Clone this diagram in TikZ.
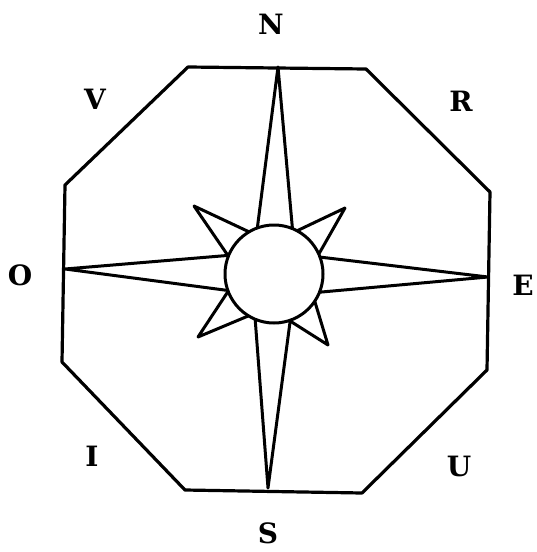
\documentclass[tikz,border=0pt]{standalone}
\usepackage{fontspec}
\setmainfont{DejaVu Serif}
\usetikzlibrary{calc}
\tikzset{
  lbl/.style={font=\fontsize{28}{28}\selectfont\bfseries, inner sep=0pt},
  edge/.style={line width=3.2pt, line join=round, line cap=round},
  ray/.style={line width=3pt, line join=round, line cap=round}
}
\begin{document}
\begin{tikzpicture}[x=1pt,y=-1pt]
\useasboundingbox (0,0) rectangle (537,552);
% octagon corners
\coordinate (p1) at (188,67);
\coordinate (p2) at (366,69);
\coordinate (p3) at (490,192);
\coordinate (p4) at (487,370);
\coordinate (p5) at (362,493);
\coordinate (p6) at (185,490);
\coordinate (p7) at (62,362);
\coordinate (p8) at (65,185);
\draw[edge] (p1) -- (p2) -- (p3) -- (p4) -- (p5) -- (p6) -- (p7) -- (p8) -- cycle;
% centre and tips
\coordinate (C) at (274,274);
\coordinate (tN) at (278,67);
\coordinate (tS) at (268,488);
\coordinate (tO) at (65,269);
\coordinate (tE) at (488,277);
\coordinate (tNW) at (194,206);
\coordinate (tNE) at (345,208);
\coordinate (tSW) at (198,337);
\coordinate (tSE) at (328,345);
\foreach \t in {tN,tS,tO,tE}{
  \draw[ray] ($(C)!49pt!21:(\t)$) -- (\t) -- ($(C)!49pt!-21:(\t)$);
}
\foreach \t in {tNW,tNE,tSW,tSE}{
  \draw[ray] ($(C)!49pt!19:(\t)$) -- (\t) -- ($(C)!49pt!-19:(\t)$);
}
\node[circle, draw, fill=white, line width=3pt, minimum size=98pt, inner sep=0pt] (sun) at (C) {};
% labels
\node[lbl] (N) at (271,24) {N};
\node[lbl] (S) at (268,533) {S};
\node[lbl] (O) at (20,275) {O};
\node[lbl] (E) at (523,285) {E};
\node[lbl] (V) at (95,99) {V};
\node[lbl] (R) at (461,101) {R};
\node[lbl] (I) at (92,456) {I};
\node[lbl] (U) at (459,466) {U};
\end{tikzpicture}
\end{document}
